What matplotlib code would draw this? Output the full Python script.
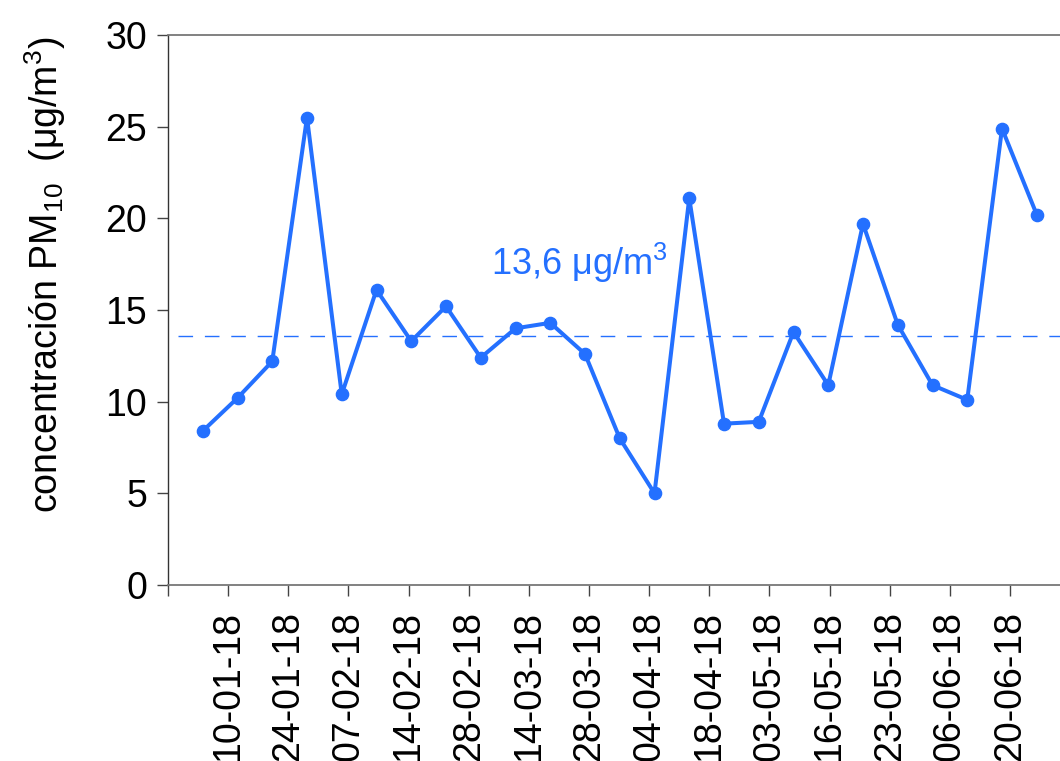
import numpy as np
import matplotlib
matplotlib.use("Agg")
import matplotlib.pyplot as plt

plt.rcParams["font.family"] = ["Liberation Sans", "DejaVu Sans"]
plt.rcParams["mathtext.default"] = "regular"

# PM10 sampling campaign, 2018
date_labels = ["10-01-18", "24-01-18", "07-02-18", "14-02-18", "28-02-18",
               "14-03-18", "28-03-18", "04-04-18", "18-04-18", "03-05-18",
               "16-05-18", "23-05-18", "06-06-18", "20-06-18"]
pm10 = [8.4, 10.2, 12.2, 25.5, 10.4, 16.1, 13.3, 15.2, 12.4, 14.0,
        14.3, 12.6, 8.0, 5.0, 21.1, 8.8, 8.9, 13.8, 10.9, 19.7,
        14.2, 10.9, 10.1, 24.9, 20.2]
mean_value = 13.6

blue = "#2470ff"

fig = plt.figure(figsize=(10.6, 7.61), dpi=100)
ax = fig.add_axes([168 / 1060, 176 / 761, 903.5 / 1060, 550 / 761])

x = np.arange(1, len(pm10) + 1)
ax.plot(x, pm10, color=blue, lw=2.9, marker="o", ms=8.8, mec=blue, mfc=blue,
        zorder=3, clip_on=False)

ax.hlines(mean_value, 0.3, len(pm10) + 1, colors=blue, lw=1.0,
          linestyles=(0, (10.5, 8.5)), zorder=2)
ax.text(9.3, 16.9, f"{mean_value:.1f}".replace(".", ",") + " μg/m$^{3}$",
        color=blue, fontsize=26, ha="left", va="baseline")

ax.set_xlim(0, len(pm10) + 1)
ax.set_ylim(0, 30)
ax.set_yticks(np.arange(0, 31, 5))

tick_step = 1.7307
ax.set_xticks(tick_step * np.arange(len(date_labels) + 1))
ax.set_xticklabels([""] + date_labels, rotation=90)

ax.tick_params(axis="both", direction="out", length=8, width=1.0,
               color="#444444", labelsize=27, labelcolor="black")
ax.tick_params(axis="y", pad=7)
ax.tick_params(axis="x", pad=11)

for side in ("top", "bottom"):
    ax.spines[side].set_color("#777777")
    ax.spines[side].set_linewidth(1.3)
ax.spines["left"].set_color("#333333")
ax.spines["left"].set_linewidth(1.0)
ax.spines["right"].set_visible(False)

fig.text(45 / 1060, 1 - 275 / 761,
         "concentración PM$_{10}$  (μg/m$^{3}$)",
         rotation=90, ha="center", va="center", fontsize=27)

fig.savefig("out.png", dpi=100)
